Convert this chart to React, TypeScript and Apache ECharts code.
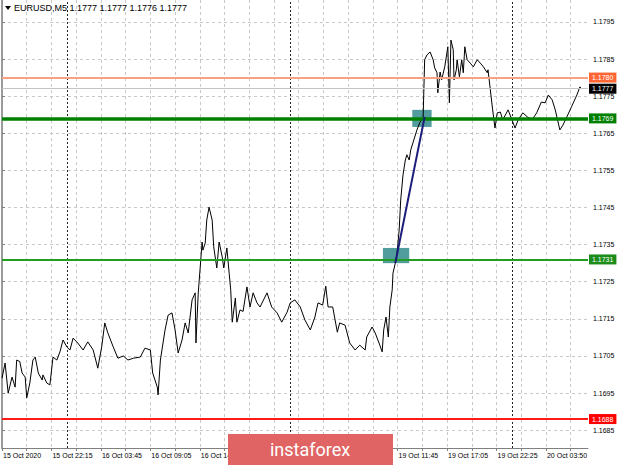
import { useEffect, useRef } from "react";
import * as echarts from "echarts";

// ---- data ----
const symbolName = "EURUSD,M5";
const headerOHLC = [1.1777, 1.1777, 1.1776, 1.1777];

// labels every 64 bars; the ones covered by the watermark are not visible in the picture
const timeLabels = [
  "15 Oct 2020", "15 Oct 22:15", "16 Oct 03:45", "16 Oct 09:05",
  "16 Oct 14:25", "", "", "",
  "19 Oct 11:45", "19 Oct 17:05", "19 Oct 22:25", "20 Oct 03:50",
];
const barsPerLabel = 64;
const barsPerGrid = 32;
const lastBarSlot = 758.4;

const priceTicks = [
  1.1685, 1.1695, 1.1705, 1.1715, 1.1725, 1.1735,
  1.1745, 1.1755, 1.1765, 1.1775, 1.1785, 1.1795,
];
const priceMin = 1.16802;
const priceMax = 1.18009;

// bar index of each sampled close (M5 bars from the first bar on screen)
const sampleBars = [
  0, 4, 8, 13, 17, 19, 23, 26, 30, 32, 36, 40, 43, 47, 52, 53, 58, 62, 66, 71,
  75, 79, 84, 88, 92, 98, 105, 111, 118, 124, 129, 133, 137, 144, 150, 157, 163, 170, 179, 185,
  192, 195, 198, 201, 202, 205, 211, 215, 220, 224, 228, 233, 237, 241, 246, 250, 251, 254, 259,
  260, 263, 265, 268, 272, 274, 278, 281, 285, 287, 291, 294, 296, 298, 302, 304, 308, 312, 317,
  321, 325, 330, 334, 343, 349, 356, 362, 369, 373, 379, 386, 392, 399, 405, 409, 415, 419, 422,
  428, 434, 437, 444, 450,
  457, 463, 470, 472, 479, 483, 489, 492, 494, 497, 500, 502, 505, 506, 509, 511,
  514, 516, 519, 522, 524, 527, 529, 533, 537, 541, 545, 547,
  550, 554, 558, 560, 563, 564, 567, 569, 573, 577, 579, 581, 584, 585, 588, 589, 592, 595, 597,
  599, 602, 606, 610, 615, 619, 623, 628, 629, 632, 635, 638, 641, 645, 648, 655, 660, 664, 668,
  674, 680, 686, 692, 698, 703, 707, 712, 716, 722, 726, 731, 737, 744, 748, 750,
];
const samplePrices = [
  1.1699, 1.17031, 1.1695, 1.16993, 1.16966, 1.17039, 1.17035, 1.17004, 1.16993, 1.16937,
  1.16977, 1.17039, 1.17047, 1.17004, 1.16985, 1.16999, 1.16977, 1.16972, 1.17047, 1.17039,
  1.17061, 1.17093, 1.17074, 1.17066, 1.17098, 1.17085, 1.17066, 1.17088, 1.17066, 1.17017,
  1.17074, 1.17139, 1.17112, 1.17074, 1.17044, 1.1705, 1.17039, 1.17044, 1.17047, 1.17071,
  1.17066, 1.17004, 1.16985, 1.16966, 1.16945, 1.17039, 1.1712, 1.1716, 1.17166, 1.1712,
  1.17058, 1.17093, 1.17139, 1.17112, 1.17201, 1.1722, 1.17085, 1.1722, 1.17357,
  1.17335, 1.17354, 1.17416, 1.17451, 1.17416, 1.17344, 1.17287, 1.17357, 1.17317, 1.17287,
  1.17341, 1.17273, 1.17228, 1.17141, 1.17206, 1.17141, 1.17174, 1.1717, 1.17236,
  1.17182, 1.1722, 1.17193, 1.17182, 1.1722, 1.17182, 1.17166, 1.17141, 1.17168, 1.17193,
  1.17201, 1.17182, 1.17147, 1.1712, 1.17155, 1.17193, 1.17187, 1.17238, 1.17182,
  1.17182, 1.17114, 1.17139, 1.17133, 1.17085,
  1.17066, 1.17079, 1.17066, 1.17101, 1.17128, 1.17112, 1.17079, 1.17061, 1.1712, 1.17155,
  1.17101, 1.17182, 1.17228, 1.17273, 1.173, 1.17322,
  1.17389, 1.1747, 1.17538, 1.17578, 1.17592, 1.17578, 1.17605, 1.17632, 1.17659, 1.1768,
  1.17691, 1.17848,
  1.17861, 1.17869, 1.17848, 1.17826, 1.17813, 1.17759, 1.17815, 1.17794, 1.17829, 1.17883,
  1.17732, 1.17901, 1.17875, 1.17794, 1.17821, 1.17848, 1.17802, 1.17848, 1.17813,
  1.17883, 1.17848, 1.17839, 1.17829, 1.17848, 1.17839, 1.17829, 1.17813, 1.17821, 1.17767,
  1.17713, 1.17664, 1.17705, 1.17707, 1.17686, 1.17713, 1.17686, 1.17664, 1.17686,
  1.17705, 1.17694, 1.17686, 1.17705, 1.17734, 1.17732, 1.17753, 1.1774, 1.17713, 1.17659,
  1.17672, 1.17694, 1.17721, 1.17753, 1.17775, 1.1777,
];

const resistanceLevel = 1.178;
const targetLevel = 1.1769;
const entryLevel = 1.1731;
const supportLevel = 1.1688;
const lastPrice = 1.1777;

const daySeparatorBars = [85, 373, 661];

const tradeBars = [509, 547];
const tradePrices = [1.173, 1.17694];

const entryBoxBars = [493, 527];
const entryBoxPrices = [1.17341, 1.173];
const exitBoxBars = [531, 556];
const exitBoxPrices = [1.17713, 1.17667];

const FONT = "Liberation Sans";

function levelLabel(bg: string) {
  return {
    show: true,
    position: "end" as const,
    distance: 1,
    formatter: (p: any) => Number(p.value).toFixed(4),
    color: "#fff",
    backgroundColor: bg,
    padding: [1, 3, 1, 3],
    fontSize: 7,
    lineHeight: 8,
    fontFamily: FONT,
  };
}

export default function App() {
  const ref = useRef<HTMLDivElement>(null);

  useEffect(() => {
    if (!ref.current) return;
    const chart = echarts.init(ref.current, null, { renderer: "svg" });

    const lineData = sampleBars.map((b, i) => [b, samplePrices[i]]);
    const labelValues = timeLabels.map((_, i) => i * barsPerLabel);
    const gridValues: number[] = [];
    for (let v = 0; v <= lastBarSlot; v += barsPerGrid) gridValues.push(v);

    const option: any = {
      animation: false,
      backgroundColor: "#fff",
      grid: { left: 2, right: 32, top: 0, bottom: 17, containLabel: false },
      xAxis: {
        type: "value",
        min: 0,
        max: lastBarSlot,
        axisLine: { show: true, onZero: false, lineStyle: { color: "#808080", width: 1 } },
        axisTick: { show: true, length: 3, customValues: gridValues, lineStyle: { color: "#808080" } },
        axisLabel: {
          customValues: labelValues,
          formatter: (v: number) => timeLabels[Math.round(v / barsPerLabel)] ?? "",
          align: "left",
          margin: 4,
          fontSize: 7,
          color: "#000",
          fontFamily: FONT,
          padding: [0, 0, 0, 1],
        },
        splitLine: { show: true, lineStyle: { color: "#c8c8c8", type: [3, 3], width: 1 } },
      },
      yAxis: [
        {
          type: "value",
          position: "right",
          min: priceMin,
          max: priceMax,
          axisLine: { show: true, lineStyle: { color: "#808080", width: 1.5 } },
          axisTick: { show: true, length: 3, customValues: priceTicks, lineStyle: { color: "#808080" } },
          axisLabel: {
            customValues: priceTicks,
            formatter: (v: number) => v.toFixed(4),
            margin: 5,
            fontSize: 7,
            color: "#000",
            fontFamily: FONT,
          },
          splitLine: { show: true, lineStyle: { color: "#c8c8c8", type: [3, 3], width: 1 } },
        },
        {
          type: "value",
          position: "left",
          min: priceMin,
          max: priceMax,
          axisLine: { show: true, lineStyle: { color: "#9a9a9a", width: 1.5 } },
          axisTick: { show: false },
          axisLabel: { show: false },
          splitLine: { show: false },
        },
      ],
      series: [
        {
          type: "line",
          data: lineData,
          showSymbol: false,
          symbol: "none",
          lineStyle: { color: "#000", width: 1 },
          z: 3,
          markArea: {
            silent: true,
            itemStyle: { color: "rgba(32,128,128,0.78)" },
            data: [
              [
                { coord: [entryBoxBars[0], entryBoxPrices[0]] },
                { coord: [entryBoxBars[1], entryBoxPrices[1]] },
              ],
              [
                { coord: [exitBoxBars[0], exitBoxPrices[0]] },
                { coord: [exitBoxBars[1], exitBoxPrices[1]] },
              ],
            ],
          },
          markLine: {
            silent: true,
            symbol: "none",
            precision: 5,
            animation: false,
            data: [
              ...daySeparatorBars.map((b) => ({
                xAxis: b,
                lineStyle: { color: "#222", type: [2, 2], width: 1 },
                label: { show: false },
              })),
              {
                yAxis: lastPrice,
                lineStyle: { color: "#c4c4c4", type: "solid", width: 1 },
                label: levelLabel("#000"),
              },
              {
                yAxis: resistanceLevel,
                lineStyle: { color: "#fba07c", type: "solid", width: 2 },
                label: levelLabel("#ff6633"),
              },
              {
                yAxis: supportLevel,
                lineStyle: { color: "#ff1a1a", type: "solid", width: 2 },
                label: levelLabel("#ff0000"),
              },
              {
                yAxis: entryLevel,
                lineStyle: { color: "#229c22", type: "solid", width: 2 },
                label: levelLabel("#1a8c1a"),
              },
              {
                yAxis: targetLevel,
                lineStyle: { color: "#008000", type: "solid", width: 3.5 },
                label: levelLabel("#008000"),
              },
              [
                {
                  coord: [tradeBars[0], tradePrices[0]],
                  lineStyle: { color: "#1c1c7a", type: "solid", width: 2 },
                  label: { show: false },
                },
                { coord: [tradeBars[1], tradePrices[1]] },
              ],
            ],
          },
        },
      ],
      graphic: [
        {
          type: "polygon",
          z: 100,
          shape: { points: [[5, 6], [11, 6], [8, 10]] },
          style: { fill: "#000" },
        },
        {
          type: "text",
          z: 100,
          x: 14,
          y: 3,
          style: {
            text: symbolName + " " + headerOHLC.map((v) => v.toFixed(4)).join(" "),
            font: `9px "${FONT}"`,
            fill: "#000",
          },
        },
        {
          type: "rect",
          z: 100,
          shape: { x: 228, y: 434, width: 165, height: 31 },
          style: { fill: "#e06464" },
        },
        {
          type: "text",
          z: 101,
          x: 310,
          y: 449,
          style: {
            text: "instaforex",
            font: '18px Roboto',
            fill: "#fff",
            align: "center",
            verticalAlign: "middle",
          },
        },
      ],
    };

    chart.setOption(option);
    return () => chart.dispose();
  }, []);

  return (
    <div
      ref={ref}
      style={{ position: "fixed", left: 0, top: 0, width: 620, height: 465, background: "#fff" }}
    />
  );
}
